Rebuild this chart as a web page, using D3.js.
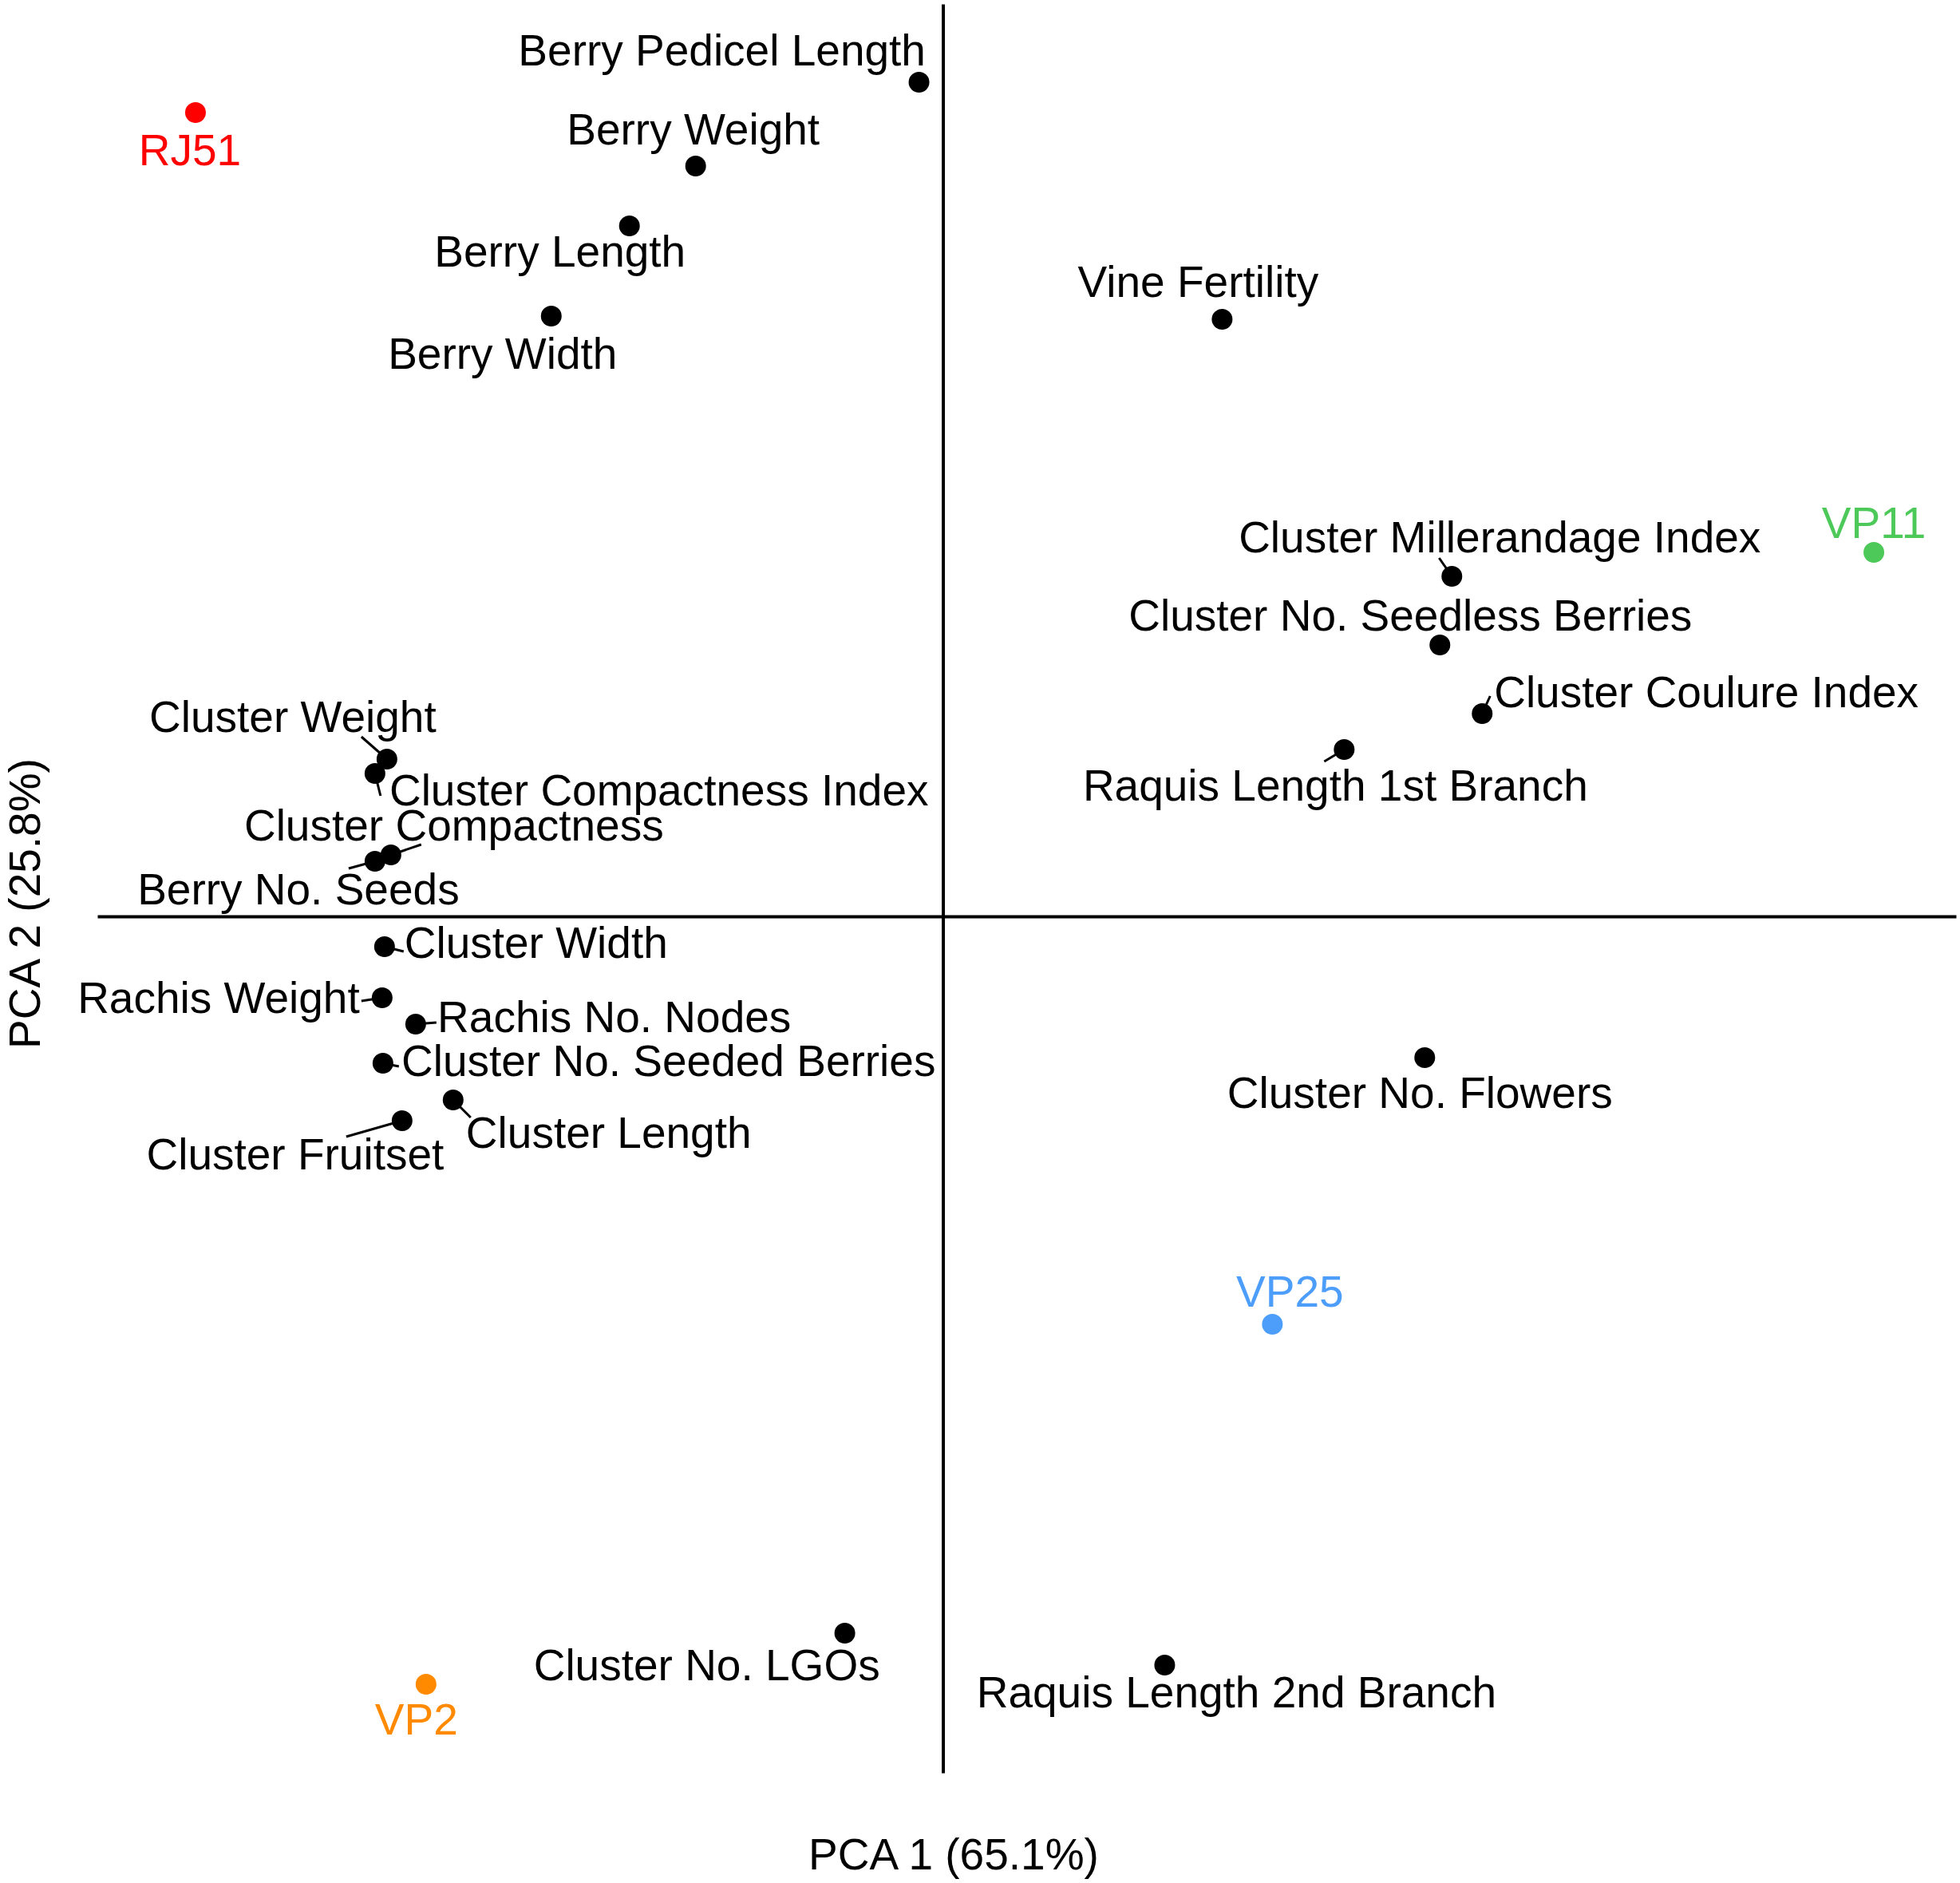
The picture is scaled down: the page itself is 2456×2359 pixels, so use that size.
<!DOCTYPE html>
<html>
<head>
<meta charset="utf-8">
<script src="https://cdn.jsdelivr.net/npm/d3@7"></script>
<style>
  html, body { margin: 0; padding: 0; background: #fff; }
  svg { display: block; }
  text { font-family: "Liberation Sans", Arial, sans-serif; }
</style>
</head>
<body>
<div id="chart"></div>
<script>
// ---- variable loadings (PCA 1, PCA 2) ----
const varNames = [
  'Berry Pedicel Length', 'Berry Weight', 'Berry Length', 'Berry Width',
  'Vine Fertility', 'Cluster Millerandage Index', 'Cluster No. Seedless Berries',
  'Cluster Coulure Index', 'Raquis Length 1st Branch', 'Cluster Weight',
  'Cluster Compactness Index', 'Cluster Compactness', 'Berry No. Seeds',
  'Cluster Width', 'Rachis Weight', 'Rachis No. Nodes', 'Cluster No. Seeded Berries',
  'Cluster Length', 'Cluster Fruitset', 'Cluster No. Flowers', 'Cluster No. LGOs',
  'Raquis Length 2nd Branch'
];
const varPC1 = [-0.030, -0.310, -0.393, -0.491, 0.350, 0.638, 0.623, 0.676, 0.503, -0.697,
  -0.712, -0.692, -0.712, -0.700, -0.703, -0.661, -0.702, -0.614, -0.678, 0.604, -0.123, 0.278];
const varPC2 = [1.045, 0.940, 0.865, 0.752, 0.748, 0.426, 0.340, 0.254, 0.209, 0.197,
  0.179, 0.077, 0.069, -0.038, -0.102, -0.135, -0.184, -0.230, -0.256, -0.177, -0.898, -0.938];

// ---- repelled label anchors (centre x, baseline y) ----
const varLabelX = [-0.277, -0.313, -0.480, -0.552, 0.320, 0.698, 0.586, 0.957, 0.492, -0.815,
  -0.356, -0.613, -0.808, -0.510, -0.908, -0.412, -0.344, -0.419, -0.812, 0.598, -0.296, 0.368];
const varLabelY = [1.066, 0.967, 0.814, 0.686, 0.776, 0.456, 0.358, 0.262, 0.145, 0.231,
  0.139, 0.095, 0.015, -0.052, -0.121, -0.145, -0.200, -0.290, -0.317, -0.240, -0.957, -0.991];

// leader segment ends (null = no segment)
const leaderEnds = [null, null, null, null, null,
  [0.622, 0.449], null, [0.686, 0.276], [0.478, 0.194], [-0.729, 0.225],
  [-0.705, 0.151], [-0.654, 0.090], [-0.745, 0.060], [-0.676, -0.044], [-0.729, -0.106],
  [-0.635, -0.133], [-0.682, -0.188], [-0.592, -0.252], [-0.748, -0.276], null, null, null];

// ---- samples ----
const sampleNames = ['RJ51', 'VP11', 'VP25', 'VP2'];
const samplePC1 = [-0.937, 1.167, 0.413, -0.648];
const samplePC2 = [1.007, 0.456, -0.511, -0.962];
const sampleLabelX = [-0.944, 1.167, 0.435, -0.660];
const sampleLabelY = [0.941, 0.474, -0.489, -1.025];
const sampleColors = ['#FF0000', '#4DC95A', '#4D9EFA', '#FF8A00'];

const xTitle = 'PCA 1 (65.1%)';
const yTitle = 'PCA 2 (25.8%)';

// ---- layout ----
const W = 2456, H = 2359;
const fontSize = 55;
const r = 13;

const x = d3.scaleLinear().domain([-1.06, 1.27]).range([122, 2451]);
const y = d3.scaleLinear().domain([-1.073, 1.143]).range([2221, 5]);

const svg = d3.select('#chart').append('svg')
  .attr('width', W)
  .attr('height', H);

// axis lines through the origin
const xAxis = svg.append('g')
  .attr('transform', `translate(0,${y(0)})`)
  .call(d3.axisBottom(x).ticks(0).tickSizeOuter(0));
const yAxis = svg.append('g')
  .attr('transform', `translate(${x(0)},0)`)
  .call(d3.axisLeft(y).ticks(0).tickSizeOuter(0));
[xAxis, yAxis].forEach(a => a.select('.domain')
  .attr('stroke', '#000')
  .attr('stroke-width', 4));

// leader segments
const vars = varNames.map((name, i) => ({
  name, pc1: varPC1[i], pc2: varPC2[i],
  lx: varLabelX[i], ly: varLabelY[i], end: leaderEnds[i]
}));

svg.append('g').selectAll('line')
  .data(vars.filter(d => d.end))
  .join('line')
  .attr('x1', d => x(d.pc1))
  .attr('y1', d => y(d.pc2))
  .attr('x2', d => x(d.end[0]))
  .attr('y2', d => y(d.end[1]))
  .attr('stroke', '#000')
  .attr('stroke-width', 3);

// variable points
svg.append('g').selectAll('circle')
  .data(vars)
  .join('circle')
  .attr('cx', d => x(d.pc1))
  .attr('cy', d => y(d.pc2))
  .attr('r', r)
  .attr('fill', '#000');

// variable labels
svg.append('g').selectAll('text')
  .data(vars)
  .join('text')
  .attr('x', d => x(d.lx))
  .attr('y', d => y(d.ly))
  .attr('text-anchor', 'middle')
  .attr('font-size', fontSize)
  .attr('fill', '#000')
  .text(d => d.name);

// samples
const samples = sampleNames.map((name, i) => ({
  name, pc1: samplePC1[i], pc2: samplePC2[i],
  lx: sampleLabelX[i], ly: sampleLabelY[i], color: sampleColors[i]
}));

svg.append('g').selectAll('circle')
  .data(samples)
  .join('circle')
  .attr('cx', d => x(d.pc1))
  .attr('cy', d => y(d.pc2))
  .attr('r', r)
  .attr('fill', d => d.color);

svg.append('g').selectAll('text')
  .data(samples)
  .join('text')
  .attr('x', d => x(d.lx))
  .attr('y', d => y(d.ly))
  .attr('text-anchor', 'middle')
  .attr('font-size', fontSize)
  .attr('fill', d => d.color)
  .text(d => d.name);

// axis titles
svg.append('text')
  .attr('x', 1195)
  .attr('y', 2342)
  .attr('text-anchor', 'middle')
  .attr('font-size', fontSize)
  .text(xTitle);

svg.append('text')
  .attr('transform', 'translate(50,1132) rotate(-90)')
  .attr('text-anchor', 'middle')
  .attr('font-size', fontSize)
  .text(yTitle);
</script>
</body>
</html>
